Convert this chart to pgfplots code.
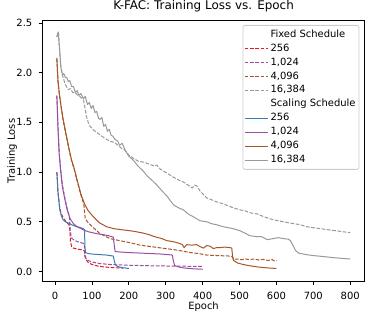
\documentclass[border=0pt]{standalone}
\usepackage{fontspec}
\setmainfont{DejaVu Sans}
\usepackage{pgfplots}
\pgfplotsset{compat=1.18}
\definecolor{cred}{HTML}{E41A1C}
\definecolor{cblue}{HTML}{377EB8}
\definecolor{cpurple}{HTML}{984EA3}
\definecolor{cbrown}{HTML}{A65628}
\definecolor{cgray}{HTML}{999999}
\definecolor{lframe}{HTML}{CCCCCC}
\begin{document}
\begin{tikzpicture}
\useasboundingbox (-42.2bp,-36.3bp) rectangle (331.8bp,281.7bp);
\begin{axis}[
  scale only axis, width=322.7bp, height=261.7bp,
  xmin=-34.75, xmax=839.75, ymin=-0.103, ymax=2.53,
  xtick={0,100,...,800}, ytick={0,0.5,...,2.5},
  tick align=outside, xtick pos=left, ytick pos=left,
  major tick length=3.5bp,
  every tick/.style={black, line width=0.8bp},
  axis line style={black, line width=0.9bp},
  /pgf/number format/assume math mode=true,
  ticklabel style={font=\fontsize{10}{12}\selectfont},
  xticklabel style={anchor=base, inner sep=0pt, yshift=-14.3bp},
  yticklabel style={anchor=east, inner sep=0pt, xshift=-6.2bp, /pgf/number format/fixed, /pgf/number format/fixed zerofill, /pgf/number format/precision=1},
  title={K-FAC: Training Loss vs. Epoch},
  title style={at={(axis description cs:0.5,1.0191)}, anchor=base, inner sep=0pt, font=\fontsize{12}{14}\selectfont},
  xlabel={Epoch},
  xlabel style={at={(axis description cs:0.5,-0.1055)}, anchor=base, inner sep=0pt, font=\fontsize{10}{12}\selectfont},
  ylabel={Training Loss},
  ylabel style={at={(axis description cs:-0.0843,0.5)}, anchor=base, inner sep=0pt, font=\fontsize{10}{12}\selectfont},
  legend image code/.code={\draw[#1] (0bp,0bp) -- (16bp,0bp); \path (0bp,0bp) -- (23.3bp,0bp);},
  legend cell align=left,
  legend style={at={(1,1)}, anchor=north east, xshift=-5.6bp, yshift=-5bp,
    draw=lframe, line width=0.8bp, rounded corners=2bp, fill=white, fill opacity=0.8, text opacity=1,
    inner xsep=1.3bp, inner ysep=3bp, row sep=1.44bp,
    nodes={inner xsep=2bp, inner ysep=1.5bp, text height=7.3bp, text depth=2.2bp},
    font=\fontsize{10}{12}\selectfont},
  every axis plot/.append style={line width=1bp, line join=round},
  fixedsched/.style={dash pattern=on 3.7bp off 1.6bp},
]
\addlegendimage{draw opacity=0, opacity=0}\addlegendentry{Fixed Schedule}
% Fixed 256
\addplot[cred, fixedsched] coordinates {(5,1.00)(8,0.80)(12,0.66)(16,0.59)(22,0.54)(30,0.50)(38,0.47)(40,0.42)(42,0.30)(45,0.25)(50,0.235)(60,0.225)(70,0.22)(79,0.21)(81,0.15)(84,0.12)(90,0.09)(100,0.07)(115,0.055)(130,0.047)(150,0.040)(170,0.036)(185,0.034)};
\addlegendentry{256}
% Fixed 1024
\addplot[cpurple, fixedsched] coordinates {(5,1.77)(8,1.47)(11,1.22)(15,1.04)(20,0.87)(27,0.73)(33,0.63)(39,0.55)(41,0.42)(44,0.34)(50,0.32)(60,0.30)(70,0.29)(79,0.28)(81,0.18)(84,0.13)(90,0.11)(100,0.095)(120,0.08)(150,0.07)(200,0.062)(250,0.058)(300,0.055)(350,0.053)(400,0.05)};
\addlegendentry{1,024}
% Fixed 4096
\addplot[cbrown, fixedsched] coordinates {(5,2.14)(8,1.91)(12,1.77)(17,1.64)(22,1.52)(30,1.37)(40,1.19)(45,1.11)(51,1.04)(60,0.91)(70,0.77)(78,0.68)(80,0.60)(82,0.53)(90,0.49)(104,0.44)(122,0.38)(149,0.33)(175,0.31)(203,0.29)(230,0.265)(260,0.25)(290,0.235)(321,0.22)(345,0.205)(366,0.19)(390,0.18)(411,0.165)(440,0.16)(474,0.155)(480,0.15)(483,0.125)(495,0.125)(505,0.118)(515,0.127)(525,0.12)(540,0.125)(552,0.115)(565,0.122)(578,0.11)(588,0.12)(595,0.105)(600,0.112)};
\addlegendentry{4,096}
% Fixed 16384
\addplot[cgray, fixedsched] coordinates {(5,2.36)(9,2.41)(12,2.25)(16,2.05)(22,1.95)(28,1.88)(36,1.83)(42,1.84)(48,1.80)(55,1.80)(59,1.78)(65,1.77)(70,1.75)(77,1.73)(81,1.65)(85,1.56)(90,1.50)(95,1.46)(105,1.42)(122,1.375)(135,1.34)(149,1.31)(160,1.30)(167,1.28)(180,1.24)(190,1.22)(200,1.17)(212,1.14)(225,1.11)(240,1.10)(255,1.08)(270,1.06)(276,1.07)(285,1.03)(303,0.99)(320,0.95)(335,0.92)(348,0.90)(360,0.87)(372,0.84)(378,0.87)(384,0.86)(393,0.81)(411,0.74)(425,0.72)(438,0.70)(456,0.68)(470,0.66)(483,0.64)(501,0.62)(515,0.61)(528,0.59)(547,0.58)(560,0.56)(574,0.54)(592,0.52)(605,0.51)(619,0.50)(632,0.49)(650,0.48)(664,0.47)(682,0.45)(700,0.44)(720,0.43)(740,0.42)(760,0.41)(780,0.40)(800,0.39)};
\addlegendentry{16,384}
\addlegendimage{draw opacity=0, opacity=0}\addlegendentry{Scaling Schedule}
% Scaling 256
\addplot[cblue] coordinates {(5,1.00)(8,0.80)(13,0.62)(17,0.56)(22,0.52)(30,0.495)(36,0.487)(45,0.47)(55,0.455)(65,0.445)(77,0.43)(80,0.42)(81,0.25)(83,0.19)(90,0.18)(100,0.175)(120,0.17)(140,0.165)(158,0.155)(161,0.10)(164,0.065)(170,0.05)(180,0.04)(190,0.035)(200,0.03)};
\addlegendentry{256}
% Scaling 1024
\addplot[cpurple] coordinates {(5,1.77)(8,1.45)(11,1.2)(15,1.02)(20,0.85)(27,0.72)(33,0.62)(41,0.53)(50,0.48)(60,0.45)(76,0.42)(90,0.40)(113,0.38)(130,0.37)(145,0.36)(158,0.345)(161,0.25)(163,0.20)(180,0.195)(200,0.19)(230,0.185)(260,0.18)(290,0.175)(318,0.165)(321,0.10)(324,0.06)(335,0.045)(350,0.035)(370,0.028)(400,0.022)};
\addlegendentry{1,024}
% Scaling 4096
\addplot[cbrown] coordinates {(5,2.15)(8,1.92)(12,1.78)(17,1.65)(22,1.53)(30,1.38)(40,1.20)(45,1.12)(51,1.05)(60,0.92)(70,0.78)(80,0.68)(90,0.61)(104,0.55)(120,0.49)(140,0.45)(160,0.43)(180,0.42)(203,0.41)(220,0.40)(239,0.386)(255,0.37)(270,0.35)(290,0.33)(303,0.31)(320,0.30)(335,0.285)(345,0.27)(350,0.24)(357,0.27)(370,0.265)(384,0.27)(393,0.25)(402,0.235)(411,0.26)(420,0.255)(429,0.23)(438,0.24)(447,0.24)(460,0.245)(474,0.24)(479,0.235)(481,0.16)(484,0.11)(495,0.085)(510,0.07)(528,0.057)(550,0.045)(575,0.036)(600,0.030)};
\addlegendentry{4,096}
% Scaling 16384
\addplot[cgray] coordinates {(5,2.36)(9,2.41)(12,2.25)(16,2.05)(20,1.98)(24,1.99)(28,1.95)(32,1.95)(36,1.91)(40,1.92)(45,1.86)(50,1.86)(55,1.80)(60,1.82)(65,1.77)(70,1.79)(77,1.74)(82,1.76)(88,1.68)(93,1.70)(98,1.64)(103,1.67)(108,1.60)(113,1.61)(118,1.54)(122,1.53)(127,1.55)(132,1.46)(137,1.48)(142,1.41)(147,1.43)(152,1.37)(157,1.36)(162,1.33)(170,1.31)(175,1.27)(182,1.29)(190,1.22)(200,1.16)(212,1.12)(225,1.06)(239,1.01)(250,0.96)(262,0.92)(276,0.87)(290,0.81)(303,0.76)(321,0.67)(335,0.64)(348,0.62)(360,0.58)(375,0.55)(393,0.51)(411,0.50)(425,0.48)(438,0.47)(456,0.45)(470,0.44)(483,0.43)(501,0.41)(515,0.385)(528,0.36)(547,0.35)(560,0.35)(575,0.32)(590,0.33)(605,0.34)(620,0.33)(632,0.325)(638,0.31)(645,0.26)(652,0.21)(660,0.185)(680,0.17)(700,0.16)(727,0.15)(760,0.137)(800,0.125)};
\addlegendentry{16,384}
\end{axis}
\end{tikzpicture}
\end{document}
